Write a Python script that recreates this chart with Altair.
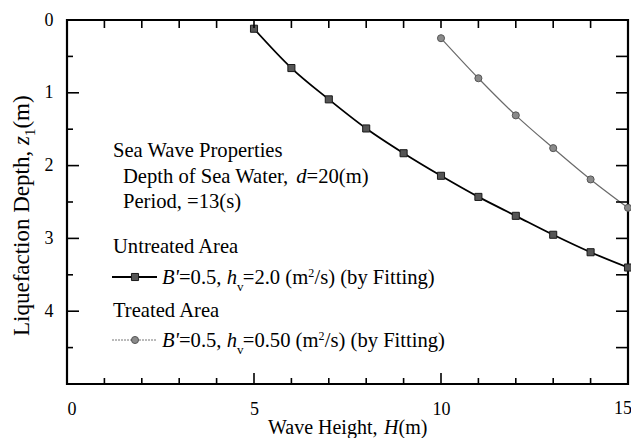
import altair as alt
import pandas as pd

FONT = "Liberation Serif"

# ---- data ----
H_untreated = [5, 6, 7, 8, 9, 10, 11, 12, 13, 14, 15]
z_untreated = [0.12, 0.66, 1.09, 1.49, 1.83, 2.14, 2.43, 2.69, 2.95, 3.19, 3.40]
H_treated = [10, 11, 12, 13, 14, 15]
z_treated = [0.25, 0.80, 1.31, 1.76, 2.19, 2.58]

x_label_values = [0, 5, 10]
x_edge_label = [15]
y_label_values = [0, 1, 2, 3, 4]
x_top_ticks = [1, 2, 3, 4, 5, 6, 7, 8, 9, 10, 11, 12, 13, 14]
x_minor_ticks = [1, 2, 3, 4, 6, 7, 8, 9, 11, 12, 13, 14]
x_major_ticks = [5, 10]
y_minor_ticks = [0.5, 1.5, 2.5, 3.5, 4.5]
y_major_ticks = [1, 2, 3, 4]
y_right_ticks = [0.5, 1, 1.5, 2, 2.5, 3, 3.5, 4, 4.5]

W, Hh = 561, 364

xs = alt.Scale(domain=[0, 15], nice=False, zero=False)
ys = alt.Scale(domain=[0, 5], nice=False, zero=False, reverse=True)

df_u = pd.DataFrame({"H": H_untreated, "z": z_untreated})
df_t = pd.DataFrame({"H": H_treated, "z": z_treated})

x_axis = alt.Axis(values=x_label_values, ticks=False, tickSize=0, domain=False, grid=False,
                  labelFont=FONT, labelFontSize=18, labelPadding=16, labelColor="black",
                  title=None)
y_axis = alt.Axis(values=y_label_values, ticks=False, tickSize=0, domain=False, grid=False,
                  labelFont=FONT, labelFontSize=18, labelPadding=14, labelColor="black",
                  title=None)


def X(field="H"):
    return alt.X(f"{field}:Q", scale=xs, axis=x_axis)


def Y(field="z"):
    return alt.Y(f"{field}:Q", scale=ys, axis=y_axis)


line_u = alt.Chart(df_u).mark_line(color="black", strokeWidth=1.8, interpolate="monotone").encode(
    x=X(), y=Y())
pts_u = alt.Chart(df_u).mark_point(shape="square", filled=True, size=50, color="#555555",
                                   stroke="#1a1a1a", strokeWidth=1, opacity=1).encode(x=X(), y=Y())
line_t = alt.Chart(df_t).mark_line(color="#6a6a6a", strokeWidth=1.2, interpolate="monotone").encode(
    x=X(), y=Y())
pts_t = alt.Chart(df_t).mark_point(shape="circle", filled=True, size=50, color="#8a8a8a",
                                   stroke="#555555", strokeWidth=1, opacity=1).encode(x=X(), y=Y())

edge_lab = alt.Chart(pd.DataFrame({"H": x_edge_label})).mark_text(
    font=FONT, fontSize=18, baseline="top", align="center", dx=-5, dy=16 + Hh, color="black"
).encode(x=X(), y=alt.value(0), text=alt.Text("H:Q"))


def vticks(vals, y1, y2):
    return alt.Chart(pd.DataFrame({"H": vals})).mark_rule(color="black", strokeWidth=1.6).encode(
        x=X(), y=alt.value(y1), y2=alt.value(y2))


def hticks(vals, x1, x2):
    return alt.Chart(pd.DataFrame({"z": vals})).mark_rule(color="black", strokeWidth=1.6).encode(
        y=Y(), x=alt.value(x1), x2=alt.value(x2))


ticks = [
    vticks(x_top_ticks, 0, 8),
    vticks(x_minor_ticks, Hh, Hh - 6),
    vticks(x_major_ticks, Hh, Hh - 11),
    hticks(y_minor_ticks, 0, 6),
    hticks(y_major_ticks, 0, 12),
    hticks(y_right_ticks, W, W - 12),
]

anchor = pd.DataFrame({"k": [0]})


def txt(s, x, y, size=20.6, italic=False, angle=None):
    kw = dict(text=s, font=FONT, fontSize=size, align="left", baseline="alphabetic", color="black")
    if italic:
        kw["fontStyle"] = "italic"
    if angle is not None:
        kw["angle"] = angle
    return alt.Chart(anchor).mark_text(**kw).encode(x=alt.value(x), y=alt.value(y))


texts = [
    txt("Sea Wave Properties", 46, 137),
    txt("Depth of Sea Water, ", 56, 163),
    txt("d", 229.3, 163, italic=True),
    txt("=20(m)", 239.6, 163),
    txt("Period, =13(s)", 56, 188),
    txt("Untreated Area", 46, 233),
    txt("Treated Area", 46, 297),
    # legend line 1
    txt("B'", 95, 264, italic=True),
    txt("=0.5, ", 112.0, 264),
    txt("h", 159.7, 264, italic=True),
    txt("v", 170.0, 271, size=13),
    txt("=2.0 (m", 175.8, 264),
    txt("2", 241.2, 257, size=12),
    txt("/s) (by Fitting)", 247.5, 264),
    # legend line 2
    txt("B'", 95, 327, italic=True),
    txt("=0.5, ", 112.0, 327),
    txt("h", 159.7, 327, italic=True),
    txt("v", 170.0, 334, size=13),
    txt("=0.50 (m", 175.8, 327),
    txt("2", 251.5, 320, size=12),
    txt("/s) (by Fitting)", 257.8, 327),
    # x title
    txt("Wave Height, ", 201, 414, size=20),
    txt("H", 317, 414, size=20, italic=True),
    txt(" (m)", 331.5, 414, size=20),
    # y title (rotated)
    txt("Liquefaction Depth, ", -38, 316, size=23, angle=270),
    txt("z", -38, 125, size=23, italic=True, angle=270),
    txt("1", -32, 116.1, size=15, angle=270),
    txt(" (m)", -38, 108.6, size=23, angle=270),
]

leg_line1 = alt.Chart(anchor).mark_rule(color="black", strokeWidth=1.8).encode(
    x=alt.value(45), x2=alt.value(90), y=alt.value(257))
leg_pt1 = alt.Chart(anchor).mark_point(shape="square", filled=True, size=50, color="#555555",
                                       stroke="#1a1a1a", strokeWidth=1, opacity=1).encode(
    x=alt.value(68), y=alt.value(257))
leg_line2 = alt.Chart(anchor).mark_rule(color="#777777", strokeWidth=1, strokeDash=[2, 1]).encode(
    x=alt.value(45), x2=alt.value(90), y=alt.value(320))
leg_pt2 = alt.Chart(anchor).mark_point(shape="circle", filled=True, size=50, color="#8a8a8a",
                                       stroke="#555555", strokeWidth=1, opacity=1).encode(
    x=alt.value(68), y=alt.value(320))

chart = alt.layer(
    line_u, line_t, pts_u, pts_t, edge_lab, *ticks, *texts,
    leg_line1, leg_pt1, leg_line2, leg_pt2,
).properties(
    width=W, height=Hh,
    autosize=alt.AutoSizeParams(type="none"),
    padding={"left": 59, "top": 12, "right": 3, "bottom": 54},
    background="white",
).configure_view(stroke="black", strokeWidth=2.2)

chart.save("out.html", embed_options={"renderer": "svg", "actions": False})
